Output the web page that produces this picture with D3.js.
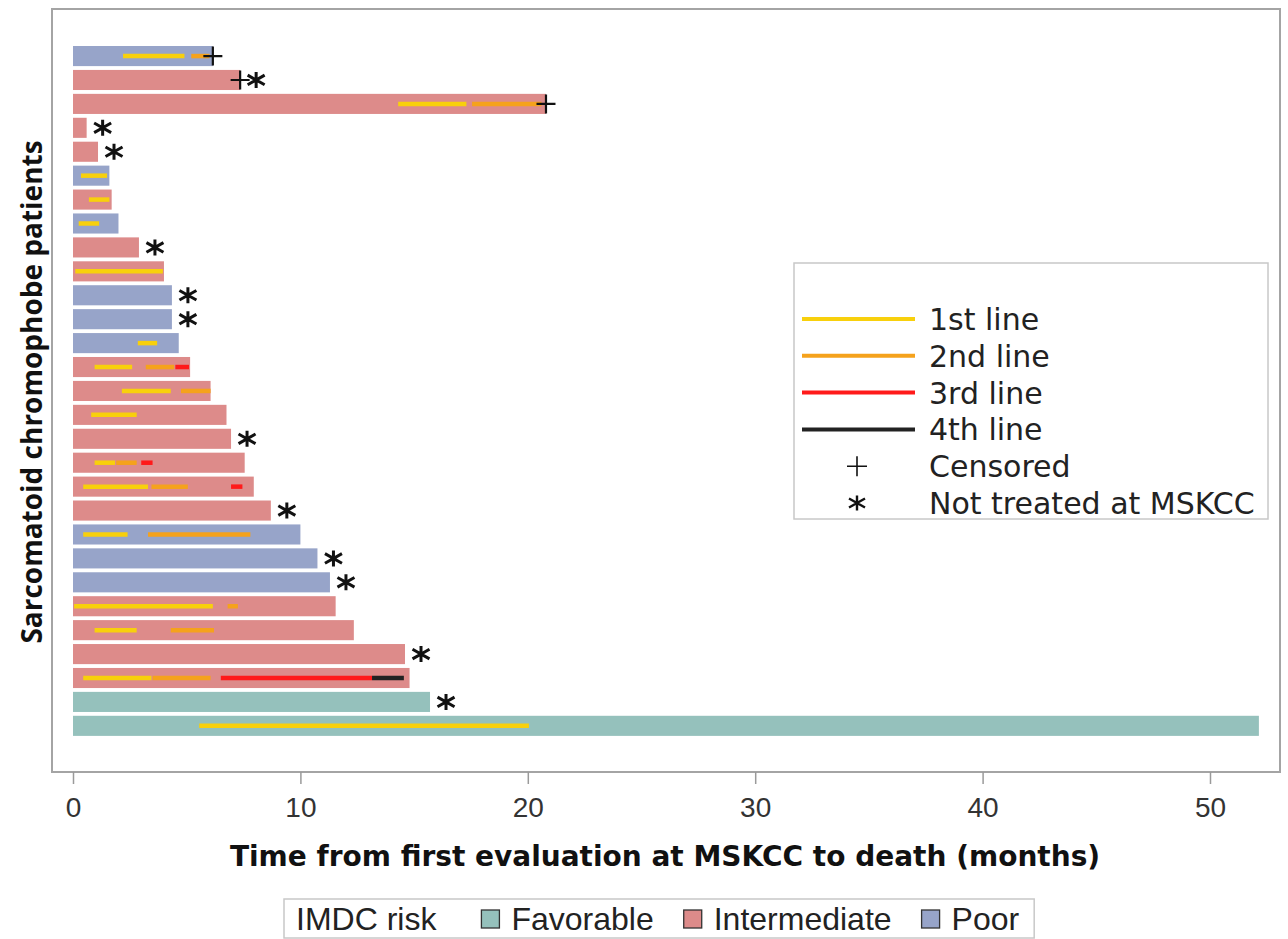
<!DOCTYPE html>
<html>
<head>
<meta charset="utf-8">
<script src="https://cdn.jsdelivr.net/npm/d3@7"></script>
<style>
  html, body { margin: 0; padding: 0; background: #fff; }
  svg { display: block; }
</style>
</head>
<body>
<div id="chart"></div>
<script>
// one entry per patient, top to bottom
const riskGroups = [
  "Poor", "Intermediate", "Intermediate", "Intermediate", "Intermediate",
  "Poor", "Intermediate", "Poor", "Intermediate", "Intermediate",
  "Poor", "Poor", "Poor", "Intermediate", "Intermediate",
  "Intermediate", "Intermediate", "Intermediate", "Intermediate", "Intermediate",
  "Poor", "Poor", "Poor", "Intermediate", "Intermediate",
  "Intermediate", "Intermediate", "Favorable", "Favorable",
];
const survivalMonths = [
  6.15, 7.35, 20.8, 0.6, 1.1,
  1.6, 1.7, 2.0, 2.9, 4.0,
  4.35, 4.35, 4.65, 5.15, 6.05,
  6.75, 6.95, 7.55, 7.95, 8.7,
  10.0, 10.75, 11.3, 11.55, 12.35,
  14.6, 14.8, 15.7, 52.15,
];
const censored = [1, 2, 3];
const notTreated = [2, 4, 5, 9, 11, 12, 17, 20, 22, 23, 26, 28];

// treatment lines: [patient, line number, start, end]
const treatments = [
  [1, 1, 2.2, 4.9], [1, 2, 5.2, 6.0],
  [3, 1, 14.3, 17.3], [3, 2, 17.55, 20.6],
  [6, 1, 0.35, 1.5],
  [7, 1, 0.7, 1.6],
  [8, 1, 0.25, 1.15],
  [10, 1, 0.1, 3.95],
  [13, 1, 2.85, 3.7],
  [14, 1, 0.95, 2.6], [14, 2, 3.2, 4.45], [14, 3, 4.5, 5.1],
  [15, 1, 2.15, 4.3], [15, 2, 4.75, 6.05],
  [16, 1, 0.8, 2.8],
  [18, 1, 0.95, 1.85], [18, 2, 1.9, 2.8], [18, 3, 3.0, 3.5],
  [19, 1, 0.45, 3.3], [19, 2, 3.45, 5.05], [19, 3, 6.95, 7.45],
  [21, 1, 0.45, 2.4], [21, 2, 3.3, 7.8],
  [24, 1, 0.05, 6.15], [24, 2, 6.8, 7.25],
  [25, 1, 0.95, 2.8], [25, 2, 4.3, 6.2],
  [27, 1, 0.45, 3.45], [27, 2, 3.5, 6.05], [27, 3, 6.5, 13.15], [27, 4, 13.15, 14.55],
  [29, 1, 5.55, 20.05],
];

const xTicks = [0, 10, 20, 30, 40, 50];
const riskLabels = ["Favorable", "Intermediate", "Poor"];
const lineLabels = ["1st line", "2nd line", "3rd line", "4th line"];
const markerLabels = ["Censored", "Not treated at MSKCC"];

const riskColor = d3.scaleOrdinal()
  .domain(riskLabels)
  .range(["#95c1bc", "#dd8b8a", "#97a4c9"]);
const lineColor = d3.scaleOrdinal()
  .domain([1, 2, 3, 4])
  .range(["#f8d00c", "#f5a21c", "#ff1a1a", "#222222"]);

const width = 1288;
const height = 939;
const frame = { left: 52, top: 9, right: 1280, bottom: 772 };

const svg = d3.select("#chart")
  .append("svg")
  .attr("width", width)
  .attr("height", height)
  .style("background", "#fff");

const x = d3.scaleLinear().domain([0, 50]).range([73, 1210]);

const patients = d3.range(1, survivalMonths.length + 1);
const y = d3.scaleBand()
  .domain(patients)
  .range([44.1, 737.8])
  .paddingInner(0.16)
  .paddingOuter(0.08);

const yMid = (p) => y(p) + y.bandwidth() / 2;

// frame
svg.append("rect")
  .attr("x", frame.left)
  .attr("y", frame.top)
  .attr("width", frame.right - frame.left)
  .attr("height", frame.bottom - frame.top)
  .attr("fill", "none")
  .attr("stroke", "#a4a4a4")
  .attr("stroke-width", 2);

// x axis
svg.append("g")
  .attr("transform", `translate(0,${frame.bottom})`)
  .call(d3.axisBottom(x).tickValues(xTicks).tickSize(12).tickPadding(13))
  .call((g) => g.select(".domain").remove())
  .call((g) => g.selectAll("line").attr("stroke", "#9a9a9a").attr("stroke-width", 1.5))
  .call((g) => g.selectAll("text")
    .attr("fill", "#333")
    .style("font-family", "'Liberation Sans', Arial, sans-serif")
    .style("font-size", "28px"));

// bars
svg.append("g")
  .selectAll("rect")
  .data(patients)
  .join("rect")
  .attr("x", x(0))
  .attr("y", (p) => y(p))
  .attr("width", (p) => x(survivalMonths[p - 1]) - x(0))
  .attr("height", y.bandwidth())
  .attr("fill", (p) => riskColor(riskGroups[p - 1]));

// treatment lines
svg.append("g")
  .selectAll("line")
  .data(treatments)
  .join("line")
  .attr("x1", (d) => x(d[2]))
  .attr("x2", (d) => x(d[3]))
  .attr("y1", (d) => yMid(d[0]))
  .attr("y2", (d) => yMid(d[0]))
  .attr("stroke", (d) => lineColor(d[1]))
  .attr("stroke-width", 4.5);

const plusPath = (s) => `M${-s},0H${s}M0,${-s}V${s}`;
const starPath = (w, h) =>
  `M0,${-h}V${h}M${-w},${-h * 0.6}L${w},${h * 0.6}M${-w},${h * 0.6}L${w},${-h * 0.6}`;

// censored markers at end of bar
svg.append("g")
  .selectAll("path")
  .data(censored)
  .join("path")
  .attr("transform", (p) => `translate(${x(survivalMonths[p - 1])},${yMid(p)})`)
  .attr("d", plusPath(9.5))
  .attr("stroke", "#111")
  .attr("stroke-width", 2.2)
  .attr("fill", "none");

// not treated markers just right of the bar
svg.append("g")
  .selectAll("path")
  .data(notTreated)
  .join("path")
  .attr("transform", (p) => `translate(${x(survivalMonths[p - 1]) + 16},${yMid(p)})`)
  .attr("d", starPath(8.5, 8))
  .attr("stroke", "#111")
  .attr("stroke-width", 3)
  .attr("fill", "none");

// axis titles
svg.append("text")
  .attr("x", 665)
  .attr("y", 866)
  .attr("text-anchor", "middle")
  .style("font-family", "'DejaVu Sans', Verdana, sans-serif")
  .style("font-weight", "700")
  .style("font-size", "28px")
  .attr("fill", "#111")
  .text("Time from first evaluation at MSKCC to death (months)");

svg.append("text")
  .attr("transform", "translate(42,392) rotate(-90)")
  .attr("text-anchor", "middle")
  .style("font-family", "'Open Sans', 'DejaVu Sans', sans-serif")
  .style("font-weight", "700")
  .style("font-size", "28px")
  .attr("fill", "#111")
  .text("Sarcomatoid chromophobe patients");

// inner legend
const legend = svg.append("g");
legend.append("rect")
  .attr("x", 794)
  .attr("y", 263)
  .attr("width", 474)
  .attr("height", 256)
  .attr("fill", "#fff")
  .attr("stroke", "#c8c8c8")
  .attr("stroke-width", 1.5);

const legendY = d3.scalePoint()
  .domain(d3.range(6))
  .range([319, 503]);

const legendFont = (sel) => sel
  .style("font-family", "'DejaVu Sans', Verdana, sans-serif")
  .style("font-size", "30px")
  .attr("fill", "#222");

lineLabels.forEach((label, i) => {
  legend.append("line")
    .attr("x1", 802).attr("x2", 915)
    .attr("y1", legendY(i)).attr("y2", legendY(i))
    .attr("stroke", lineColor(i + 1))
    .attr("stroke-width", 4);
  legend.append("text")
    .attr("x", 929)
    .attr("y", legendY(i) + 11)
    .call(legendFont)
    .text(label);
});

markerLabels.forEach((label, i) => {
  const yy = legendY(i + 4);
  legend.append("path")
    .attr("transform", `translate(857,${yy})`)
    .attr("d", i === 0 ? plusPath(10) : starPath(8, 7.5))
    .attr("stroke", "#111")
    .attr("stroke-width", i === 0 ? 1.6 : 2.4)
    .attr("fill", "none");
  legend.append("text")
    .attr("x", 929)
    .attr("y", yy + 11)
    .call(legendFont)
    .text(label);
});

// bottom legend
const bottom = svg.append("g");
const bottomFont = (sel) => sel
  .style("font-family", "'Liberation Sans', Arial, sans-serif")
  .style("font-size", "32px")
  .attr("fill", "#222");

const boxLeft = 284;
const baseY = 930;
const box = bottom.append("rect")
  .attr("x", boxLeft)
  .attr("y", 899)
  .attr("height", 39)
  .attr("fill", "#fff")
  .attr("stroke", "#c8c8c8")
  .attr("stroke-width", 1.5);

const title = bottom.append("text")
  .attr("x", boxLeft + 12)
  .attr("y", baseY)
  .call(bottomFont)
  .text("IMDC risk");

let cursor = boxLeft + 12 + title.node().getComputedTextLength() + 45;
riskLabels.forEach((label) => {
  bottom.append("rect")
    .attr("x", cursor)
    .attr("y", baseY - 20)
    .attr("width", 18)
    .attr("height", 18)
    .attr("fill", riskColor(label))
    .attr("stroke", "#333")
    .attr("stroke-width", 1.3);
  const t = bottom.append("text")
    .attr("x", cursor + 30)
    .attr("y", baseY)
    .call(bottomFont)
    .text(label);
  cursor += 30 + t.node().getComputedTextLength() + 30;
});
box.attr("width", cursor - boxLeft - 15);
</script>
</body>
</html>
